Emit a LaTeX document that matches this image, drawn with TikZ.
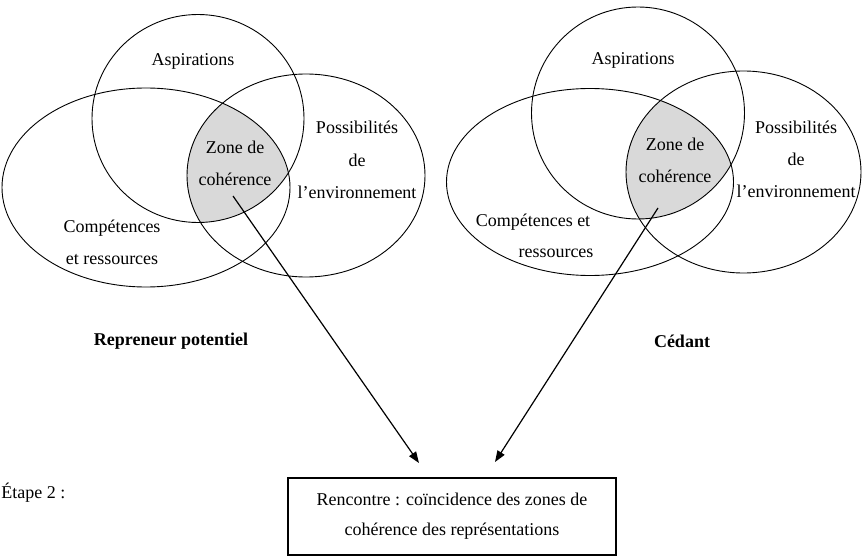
\documentclass[tikz,border=0pt]{standalone}
\usepackage{fontspec}
\setmainfont{Liberation Serif}
\usepackage{xcolor}
\definecolor{zonegray}{RGB}{217,217,217}
\usepackage{tikz}
\usetikzlibrary{arrows.meta}
\tikzset{
    venn/.style={draw, line width=0.6pt},
    txt/.style={align=center, inner sep=0pt, font=\fontsize{12}{21.5}\selectfont},
    who/.style={txt, font=\fontsize{12}{14}\selectfont\bfseries},
    meeting/.style={draw, line width=0.9pt, align=center, inner sep=0pt,
        minimum width=218.7pt, minimum height=51.3pt, font=\fontsize{12}{20}\selectfont},
    toward/.style={-{Triangle[length=7.5pt,width=5.5pt]}, line width=0.8pt}
}

\begin{document}
\begin{tikzpicture}[x=0.6667pt, y=-0.6667pt]
  \useasboundingbox (0,0) rectangle (862,556);

  % repreneur potentiel
  \begin{scope}
    \clip (198,118.5) ellipse [x radius=106, y radius=104];
    \clip (146,187.5) ellipse [x radius=144, y radius=99.5];
    \fill[zonegray] (306,175.5) ellipse [x radius=119, y radius=101.5];
  \end{scope}
  \draw[venn] (198,118.5) ellipse [x radius=106, y radius=104];
  \draw[venn] (146,187.5) ellipse [x radius=144, y radius=99.5];
  \draw[venn] (306,175.5) ellipse [x radius=119, y radius=101.5];

  \node[txt] (repreneur-asp) at (193,61) {Aspirations};
  \node[txt] (repreneur-zone) at (235,163) {Zone de\\coh\'erence};
  \node[txt] (repreneur-poss) at (357,160) {Possibilit\'es\\de\\l'environnement};
  \node[txt] (repreneur-comp) at (112,242) {Comp\'etences\\et ressources};
  \node[who] (repreneur) at (171,341) {Repreneur potentiel};

  % cedant
  \begin{scope}
    \clip (638,113) ellipse [x radius=106.5, y radius=106];
    \clip (590,182) ellipse [x radius=143.5, y radius=93.5];
    \fill[zonegray] (743.5,172) ellipse [x radius=117.5, y radius=101];
  \end{scope}
  \draw[venn] (638,113) ellipse [x radius=106.5, y radius=106];
  \draw[venn] (590,182) ellipse [x radius=143.5, y radius=93.5];
  \draw[venn] (743.5,172) ellipse [x radius=117.5, y radius=101];

  \node[txt] (cedant-asp) at (633,60) {Aspirations};
  \node[txt] (cedant-zone) at (675,160) {Zone de\\coh\'erence};
  \node[txt] (cedant-poss) at (796,159.5) {Possibilit\'es\\de\\l'environnement};
  \node[txt] (cedant-comp-a) at (533,222) {Comp\'etences et};
  \node[txt] (cedant-comp-b) at (556,253) {ressources};
  \node[who] (cedant) at (682,341) {C\'edant};

  % etape 2
  \node[txt, anchor=west] (etape) at (1,493) {\'Etape 2 :};
  \node[meeting] (rencontre) at (452,516.5) {Rencontre : co\"incidence des zones de\\coh\'erence des repr\'esentations};

  \coordinate (repreneur-from) at (233,196);
  \coordinate (repreneur-to) at (419,463);
  \coordinate (cedant-from) at (658,208);
  \coordinate (cedant-to) at (495,462);
  \draw[toward] (repreneur-from) -- (repreneur-to);
  \draw[toward] (cedant-from) -- (cedant-to);
\end{tikzpicture}
\end{document}
